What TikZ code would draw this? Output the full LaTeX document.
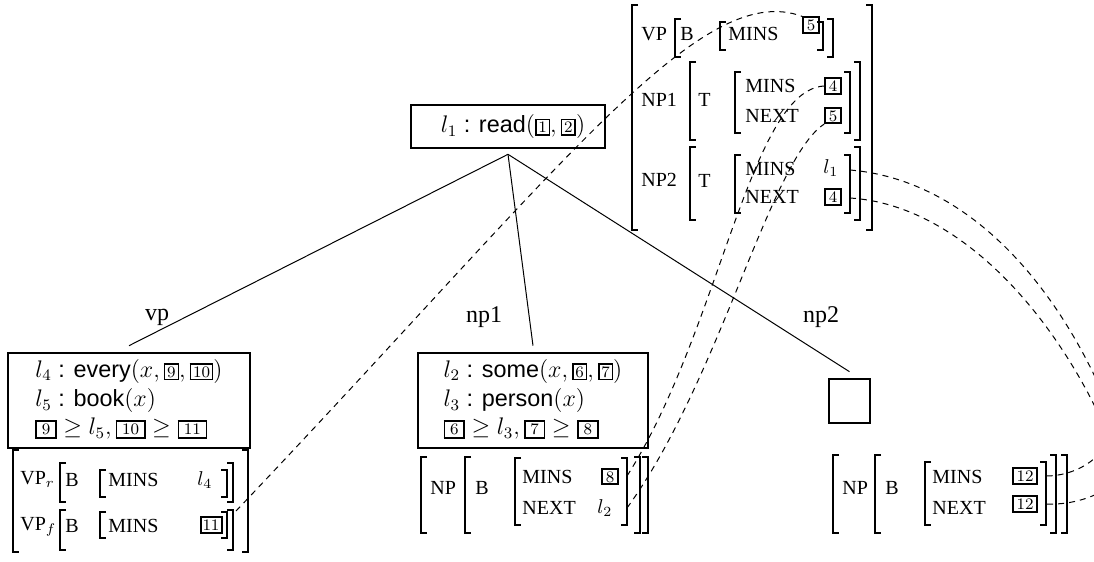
\documentclass[tikz,border=0pt]{standalone}
\usepackage[no-math]{fontspec}
\setmainfont{Liberation Serif}
\setsansfont{Liberation Sans}
\usetikzlibrary{calc}
\newcommand{\sbx}[1]{{\setlength{\fboxsep}{0.9pt}\setlength{\fboxrule}{0.8pt}\fbox{$\scriptstyle #1$}}}
\newcommand{\bbx}[1]{{\setlength{\fboxsep}{1.2pt}\setlength{\fboxrule}{0.8pt}\fbox{\hspace{1.2pt}$\scriptstyle #1$\hspace{1.2pt}}}}
\newcommand{\avmbr}[4]{%
  \draw[brk] ({#1+6},#2) -- (#1,#2) -- (#1,#4) -- ({#1+6},#4);
  \draw[brk] ({#3-6},#2) -- (#3,#2) -- (#3,#4) -- ({#3-6},#4);}
\tikzset{
  brk/.style={line width=1pt},
  tbox/.style={draw, line width=1.3pt, inner sep=0pt, font=\sffamily\fontsize{11.7}{12.5}\selectfont},
  avmtxt/.style={anchor=west, inner sep=0pt, font=\fontsize{10}{12}\selectfont},
  tagbx/.style={draw, line width=1pt, inner xsep=1.8pt, inner ysep=1pt, text height=5.6pt, text depth=0pt, font=\fontsize{8.5}{8.5}\selectfont},
  treeline/.style={line width=0.5pt},
  arclbl/.style={inner sep=0pt, font=\fontsize{12}{14}\selectfont},
  dlink/.style={line width=0.5pt, dash pattern=on 3pt off 2.5pt}
}
\begin{document}
\begin{tikzpicture}[x=0.5pt, y=-0.5pt]
\useasboundingbox (0,0) rectangle (1094,562);
\clip (0,0) rectangle (1094,562);

% ---- tree ----
\node[tbox, minimum width=97pt, minimum height=21.5pt] (root) at (508,126.5)
  {\hspace*{5pt}$l_1$ : read$(\sbx{1}, \sbx{2})$};
\node[tbox, minimum width=121pt, minimum height=47.5pt] (vpbox) at (129,400.5)
  {\begin{tabular}{@{}l@{}}
   $l_4$ : every$(x, \sbx{9}, \sbx{10})$\\[2pt]
   $l_5$ : book$(x)$\\[1.5pt]
   $\bbx{9} \geq l_5, \bbx{10} \geq \bbx{11}$
   \end{tabular}};
\node[tbox, minimum width=115pt, minimum height=47.5pt] (npbox) at (533,400.5)
  {\begin{tabular}{@{}l@{}}
   $l_2$ : some$(x, \sbx{6}, \sbx{7})$\\[2pt]
   $l_3$ : person$(x)$\\[1.5pt]
   $\bbx{6} \geq l_3, \bbx{7} \geq \bbx{8}$
   \end{tabular}};
\node[tbox, minimum width=20.5pt, minimum height=22pt] (hole) at (849.5,401) {};

\coordinate (apex) at ([yshift=-2.5pt]root.south);
\draw[treeline] (apex) -- ([yshift=3pt]vpbox.north);
\draw[treeline] (apex) -- ([yshift=3pt]npbox.north);
\draw[treeline] (apex) -- ([yshift=3pt]hole.north);

\node[arclbl] (vplbl) at (157,317) {vp};
\node[arclbl] (np1lbl) at (484,317) {np1};
\node[arclbl] (np2lbl) at (821,317) {np2};

% ---- top AVM ----
\avmbr{632}{5}{872}{230}
\avmbr{675}{19}{833}{57}
\avmbr{720}{22}{823}{50}
\avmbr{690}{62}{860}{140}
\avmbr{735}{72}{850}{133}
\avmbr{690}{147}{860}{220}
\avmbr{735}{155}{850}{213}
\node[avmtxt] (tvp) at (641,34) {VP};
\node[avmtxt] (tvpb) at (680,34) {B};
\node[avmtxt] (tvpm) at (728,34) {MINS};
\node[tagbx] (t5a) at (811,25) {$5$};
\node[avmtxt] (tnp1) at (641,100) {NP1};
\node[avmtxt] (tnp1t) at (698,100) {T};
\node[avmtxt] (tnp1m) at (745,86) {MINS};
\node[tagbx] (t4a) at (833,86) {$4$};
\node[avmtxt] (tnp1n) at (745,116) {NEXT};
\node[tagbx] (t5b) at (833,115.5) {$5$};
\node[avmtxt] (tnp2) at (641,180) {NP2};
\node[avmtxt] (tnp2t) at (698,181) {T};
\node[avmtxt] (tnp2m) at (745,169) {MINS};
\node[avmtxt] (tl1) at (823,168) {$l_1$};
\node[avmtxt] (tnp2n) at (745,197) {NEXT};
\node[tagbx] (t4b) at (833,197) {$4$};
\coordinate (np2m) at (850,170);
\coordinate (np2n) at (850,198);

% ---- left AVM ----
\avmbr{13}{450}{248}{552}
\avmbr{60}{463}{233}{502}
\avmbr{100}{470}{227}{497}
\avmbr{60}{510}{233}{550}
\avmbr{100}{512}{227}{538}
\node[avmtxt] (lvpr) at (20,479) {VP$_r$};
\node[avmtxt] (lb1) at (65,480) {B};
\node[avmtxt] (lm1) at (108,480) {MINS};
\node[avmtxt] (ll4) at (197,480) {$l_4$};
\node[avmtxt] (lvpf) at (20,527) {VP$_f$};
\node[avmtxt] (lb2) at (65,526) {B};
\node[avmtxt] (lm2) at (108,526) {MINS};
\node[tagbx, inner xsep=1pt] (t11) at (211,525) {$11$};
\coordinate (vpfB) at (236,511);

% ---- middle AVM ----
\avmbr{421}{457}{648}{533}
\avmbr{465}{457}{640}{533}
\avmbr{515}{458}{627}{525}
\node[avmtxt] (mnp) at (430,488) {NP};
\node[avmtxt] (mb) at (475,488) {B};
\node[avmtxt] (mm) at (522,477) {MINS};
\node[tagbx] (t8) at (610,476.5) {$8$};
\node[avmtxt] (mn) at (522,508) {NEXT};
\node[avmtxt] (ml2) at (597,508) {$l_2$};
\coordinate (npm) at (627,476);
\coordinate (npn) at (627,508);

% ---- right AVM ----
\avmbr{833}{455}{1067}{533}
\avmbr{875}{455}{1056}{533}
\avmbr{925}{462}{1046}{525}
\node[avmtxt] (rnp) at (842,488) {NP};
\node[avmtxt] (rb) at (885,488) {B};
\node[avmtxt] (rm) at (932,477) {MINS};
\node[tagbx] (t12a) at (1025,476) {$12$};
\node[avmtxt] (rn) at (932,508) {NEXT};
\node[tagbx] (t12b) at (1025,504) {$12$};
\coordinate (rbm) at (1046,476);
\coordinate (rbn) at (1046,504);

% ---- dashed links ----
\coordinate (bendA) at (1125,450);
\coordinate (bendB) at (1106,430);
\draw[dlink] (vpfB) .. controls (560,170) and (700,-22) .. (t5a.north west);
\draw[dlink] (npm) .. controls (720,330) and (750,90) .. (t4a.west);
\draw[dlink] (npn) .. controls (720,380) and (770,160) .. (t5b.south west);
\draw[dlink] (np2m) .. controls (970,180) and (1070,290) .. (bendA)
  .. controls (1135,480) and (1090,506) .. (rbn);
\draw[dlink] (np2n) .. controls (960,205) and (1055,315) .. (bendB)
  .. controls (1112,452) and (1080,476) .. (rbm);
\end{tikzpicture}
\end{document}
